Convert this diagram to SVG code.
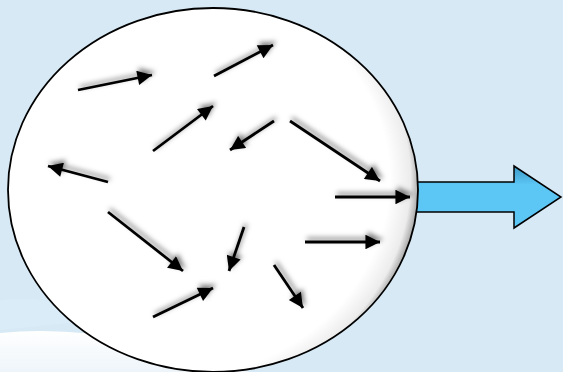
<svg xmlns="http://www.w3.org/2000/svg" width="563" height="372" viewBox="0 0 563 372">
<defs>
  <linearGradient id="cloud" x1="0" y1="0" x2="0" y2="1">
    <stop offset="0" stop-color="#ffffff"/>
    <stop offset="1" stop-color="#eef5fa"/>
  </linearGradient>
  <radialGradient id="ball" cx="0.38" cy="0.47" r="0.64">
    <stop offset="0.86" stop-color="#ffffff"/>
    <stop offset="0.94" stop-color="#ececec"/>
    <stop offset="1" stop-color="#707070"/>
  </radialGradient>
  <linearGradient id="blue" x1="0" y1="0" x2="0" y2="1">
    <stop offset="0" stop-color="#3a98c4"/>
    <stop offset="0.3" stop-color="#5cc6f5"/>
    <stop offset="1" stop-color="#5cc6f5"/>
  </linearGradient>
  <filter id="sh" x="-30%" y="-30%" width="160%" height="160%">
    <feDropShadow dx="2" dy="-3" stdDeviation="2.5" flood-color="#000" flood-opacity="0.5"/>
  </filter>
  <marker id="ah" viewBox="0 0 10 10" refX="10" refY="5" markerWidth="6" markerHeight="5.2" markerUnits="strokeWidth" orient="auto">
    <path d="M0,0 L10,5 L0,10 Z" fill="#000"/>
  </marker>
  <style>
    .a { stroke:#000; stroke-width:2.8; fill:none; marker-end:url(#ah); }
  </style>
</defs>
<rect width="563" height="372" fill="#d6e9f5"/>
<path d="M0,300 Q60,295 120,318 L0,330 Z" fill="#dceef8" opacity="0.6"/>
<path d="M0,333 Q110,322 250,372 L0,372 Z" fill="url(#cloud)"/>
<g id="output-arrow">
  <path d="M400,182 L514,182 L514,166 L561,197 L514,228 L514,212 L400,212 Z" fill="url(#blue)" stroke="#000" stroke-width="1.5" stroke-linejoin="miter"/>
</g>
<g id="container">
  <ellipse cx="213" cy="190" rx="205" ry="182" fill="url(#ball)" stroke="#000" stroke-width="1.8"/>
</g>
<g id="connectors" filter="url(#sh)">
  <line class="a" x1="78" y1="90" x2="152" y2="75"/>
  <line class="a" x1="214" y1="76" x2="273" y2="45"/>
  <line class="a" x1="153" y1="151" x2="213" y2="106"/>
  <line class="a" x1="274" y1="121" x2="230" y2="150"/>
  <line class="a" x1="108" y1="182" x2="48" y2="166"/>
  <line class="a" x1="290" y1="121" x2="380" y2="181"/>
  <line class="a" x1="335" y1="197" x2="410" y2="197"/>
  <line class="a" x1="108" y1="212" x2="183" y2="271"/>
  <line class="a" x1="244" y1="227" x2="229" y2="271"/>
  <line class="a" x1="305" y1="242" x2="380" y2="242"/>
  <line class="a" x1="274" y1="265" x2="303" y2="308"/>
  <line class="a" x1="153" y1="317" x2="213" y2="288"/>
</g>
</svg>
